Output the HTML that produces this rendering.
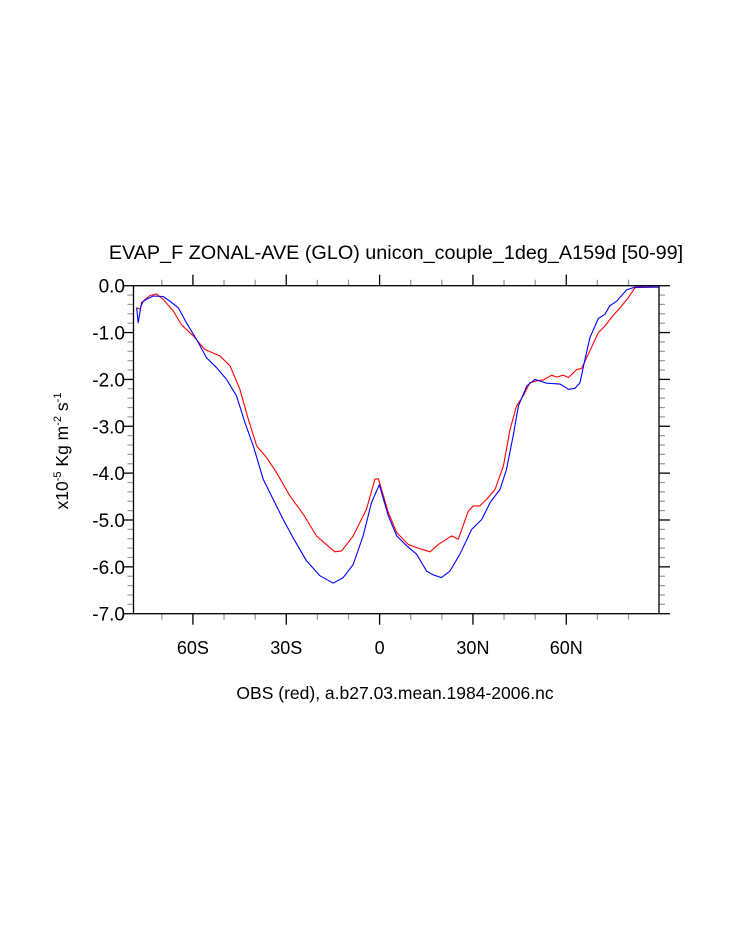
<!DOCTYPE html>
<html><head><meta charset="utf-8"><style>
html,body{margin:0;padding:0;background:#fff;}
svg{display:block;font-family:"Liberation Sans",Arial,sans-serif;}
</style></head><body>
<svg id="chart" width="733" height="945" viewBox="0 0 733 945" xmlns="http://www.w3.org/2000/svg">
<text x="396" y="259" font-size="19.8" text-anchor="middle">EVAP_F ZONAL-AVE (GLO) unicon_couple_1deg_A159d [50-99]</text>
<text x="395" y="699" font-size="17.5" text-anchor="middle">OBS (red), a.b27.03.mean.1984-2006.nc</text>
<text transform="translate(68,451) rotate(-90)" font-size="17.5" text-anchor="middle">x10<tspan font-size="11" dy="-7">-5</tspan><tspan dy="7"> Kg m</tspan><tspan font-size="11" dy="-7">-2</tspan><tspan dy="7"> s</tspan><tspan font-size="11" dy="-7">-1</tspan></text>
<g id="ticks"></g>
<g id="series"></g>
<rect x="133.5" y="285.7" width="525.5" height="328" fill="none" stroke="#000" stroke-width="1.3"/>
</svg>
<script>
const yTicks = [0,-1,-2,-3,-4,-5,-6,-7];
const yTickLabels = ["0.0","-1.0","-2.0","-3.0","-4.0","-5.0","-6.0","-7.0"];
const xTicks = [-60,-30,0,30,60];
const xTickLabels = ["60S","30S","0","30N","60N"];
const modelLat = [-78.1,-77.6,-76.5,-74.9,-72.8,-69.6,-67.4,-64.7,-62.1,-58.8,-55.6,-52.4,-49.2,-46,-43.3,-40.6,-37.4,-34.2,-31,-27.8,-23.5,-19.2,-14.9,-11.7,-8.5,-5.3,-2.6,-0.1,2.8,5.5,8.7,11.9,15.1,17.2,19.9,22.6,25.8,29.6,32.8,35.5,38.7,40.8,42.9,44.6,47.3,49.9,53.7,58,60.7,62.8,64.4,66,67.6,70.3,72.4,74,76.2,79.4,82.1,89.9];
const modelVal = [-0.47,-0.79,-0.36,-0.29,-0.22,-0.23,-0.33,-0.47,-0.79,-1.15,-1.54,-1.75,-2.0,-2.35,-2.92,-3.42,-4.13,-4.56,-4.99,-5.38,-5.87,-6.19,-6.35,-6.23,-5.95,-5.34,-4.63,-4.25,-4.91,-5.34,-5.55,-5.73,-6.09,-6.17,-6.23,-6.09,-5.73,-5.2,-4.99,-4.63,-4.35,-3.92,-3.21,-2.57,-2.14,-2.0,-2.08,-2.1,-2.21,-2.19,-2.07,-1.57,-1.11,-0.7,-0.61,-0.43,-0.33,-0.09,-0.03,-0.03];
const obsLat = [-78.1,-77,-76,-73.8,-71.7,-69.6,-66.3,-63.7,-59.9,-56.2,-51.3,-48.1,-44.9,-42.2,-39.5,-36.3,-33.1,-28.8,-24.5,-20.3,-14.4,-12.2,-8.5,-4.2,-1.5,-0.4,2.8,5.5,9.2,11.9,16.2,18.9,23.1,25.3,28.5,30.1,32.2,34.4,37.1,39.8,41.9,44,46.2,48.3,50.5,52.6,55.3,56.9,59,60.7,63.3,64.9,67.6,70.3,72.4,75.1,77.3,79.9,82.1,89.9];
const obsVal = [-0.47,-0.5,-0.33,-0.21,-0.18,-0.29,-0.54,-0.83,-1.07,-1.36,-1.5,-1.71,-2.21,-2.85,-3.42,-3.67,-3.99,-4.49,-4.88,-5.34,-5.68,-5.66,-5.34,-4.77,-4.13,-4.12,-4.84,-5.27,-5.52,-5.59,-5.68,-5.52,-5.34,-5.41,-4.81,-4.7,-4.7,-4.56,-4.35,-3.85,-3.07,-2.57,-2.35,-2.07,-2.03,-2.01,-1.91,-1.95,-1.91,-1.96,-1.79,-1.77,-1.39,-1.0,-0.86,-0.63,-0.47,-0.26,-0.04,-0.03];

const NS="http://www.w3.org/2000/svg";
const L=133.5,R=659,T=285.7,B=613.7;
const X0=-79.1,X1=89.8;
function xs(v){return L+(v-X0)/(X1-X0)*(R-L);}
function ys(v){return T+(0-v)/7*(B-T);}
const tg=document.getElementById('ticks');
function line(x1,y1,x2,y2,c,w,name){const l=document.createElementNS(NS,'line');l.setAttribute('x1',x1);l.setAttribute('y1',y1);l.setAttribute('x2',x2);l.setAttribute('y2',y2);l.setAttribute('stroke',c);l.setAttribute('stroke-width',w);


tg.appendChild(l);}
function txt(x,y,s,anchor,size,name){const t=document.createElementNS(NS,'text');t.setAttribute('x',x);t.setAttribute('y',y);t.setAttribute('text-anchor',anchor);t.setAttribute('font-size',size);t.textContent=s;


tg.appendChild(t);}
for(let v=0;v>=-7.001;v-=0.2){const y=ys(v);const major=Math.abs(v-Math.round(v))<1e-6;
 if(major){line(L-11,y,L,y,'#000',1.3,'y-major-tick');line(R,y,R+11,y,'#000',1.3,'y-major-tick-right');}
 else{line(L-6,y,L,y,'#999',1.2,'y-minor-tick');line(R,y,R+6,y,'#999',1.2,'y-minor-tick-right');}}
yTicks.forEach((v,i)=>txt(125,ys(v)+7,yTickLabels[i],'end',19,'y-tick-label'));
for(let v=-70;v<=89;v+=10){const x=xs(v);const major=v%30===0;
 const len=major?11:6;const c=major?'#000':'#999';
 line(x,B,x,B+len,c,1.3,'x-tick');line(x,T-len,x,T,c,1.3,'x-tick-top');}
xTicks.forEach((v,i)=>txt(xs(v),654,xTickLabels[i],'middle',18,'x-tick-label'));
const sg=document.getElementById('series');
function path(lat,val,color,name){const p=document.createElementNS(NS,'path');
 p.setAttribute('d',lat.map((a,i)=>(i?'L':'M')+xs(a).toFixed(1)+' '+ys(val[i]).toFixed(1)).join(' '));
 p.setAttribute('fill','none');p.setAttribute('stroke',color);p.setAttribute('stroke-width','1.1');p.setAttribute('stroke-linejoin','round');
 
 
 sg.appendChild(p);}
path(obsLat,obsVal,'#ff0000','obs-line-red');
path(modelLat,modelVal,'#0000ff','model-line-blue');
</script>
</body></html>
